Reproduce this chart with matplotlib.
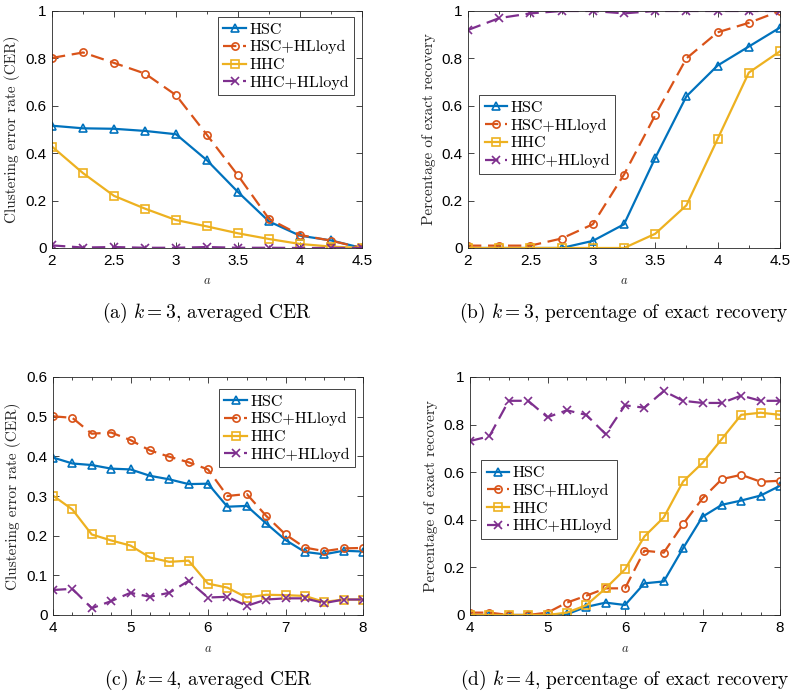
import numpy as np
import matplotlib
matplotlib.use("Agg")
import matplotlib.pyplot as plt
from matplotlib.ticker import MultipleLocator

plt.rcParams['mathtext.fontset'] = 'cm'

# ---------------- data ----------------
x_k3 = [2, 2.25, 2.5, 2.75, 3, 3.25, 3.5, 3.75, 4, 4.25, 4.5]
cer_k3_hsc = [0.516, 0.505, 0.503, 0.494, 0.48, 0.37, 0.236, 0.112, 0.052, 0.032, 0.0]
cer_k3_hsc_hl = [0.802, 0.825, 0.781, 0.736, 0.645, 0.477, 0.306, 0.123, 0.055, 0.031, 0.0]
cer_k3_hhc = [0.428, 0.316, 0.22, 0.166, 0.118, 0.091, 0.062, 0.038, 0.017, 0.006, 0.0]
cer_k3_hhc_hl = [0.011, 0.002, 0.004, 0.001, 0.001, 0.004, 0.001, 0.001, 0.0, 0.0, 0.0]

rec_k3_hsc = [0, 0, 0, 0, 0.03, 0.10, 0.38, 0.64, 0.77, 0.85, 0.93]
rec_k3_hsc_hl = [0.01, 0.01, 0.01, 0.04, 0.10, 0.31, 0.56, 0.80, 0.91, 0.95, 1.0]
rec_k3_hhc = [0, 0, 0, 0, 0, 0, 0.06, 0.18, 0.46, 0.74, 0.83]
rec_k3_hhc_hl = [0.92, 0.97, 0.99, 1.0, 1.0, 0.99, 1.0, 1.0, 1.0, 1.0, 1.0]

x_k4 = [4, 4.25, 4.5, 4.75, 5, 5.25, 5.5, 5.75, 6, 6.25, 6.5, 6.75, 7, 7.25, 7.5, 7.75, 8]
cer_k4_hsc = [0.397, 0.382, 0.378, 0.369, 0.367, 0.351, 0.342, 0.330, 0.331, 0.273, 0.275,
              0.231, 0.189, 0.159, 0.153, 0.162, 0.160]
cer_k4_hsc_hl = [0.501, 0.497, 0.457, 0.46, 0.441, 0.415, 0.399, 0.385, 0.367, 0.300, 0.305,
                 0.250, 0.203, 0.170, 0.161, 0.168, 0.169]
cer_k4_hhc = [0.301, 0.266, 0.203, 0.188, 0.175, 0.145, 0.134, 0.137, 0.079, 0.069, 0.044,
              0.051, 0.050, 0.048, 0.033, 0.039, 0.039]
cer_k4_hhc_hl = [0.063, 0.066, 0.017, 0.035, 0.056, 0.046, 0.056, 0.086, 0.044, 0.046, 0.023,
                 0.039, 0.042, 0.042, 0.030, 0.039, 0.039]

rec_k4_hsc = [0, 0, 0, 0, 0, 0.003, 0.034, 0.052, 0.042, 0.133, 0.141, 0.281, 0.413, 0.463,
              0.481, 0.502, 0.543]
rec_k4_hsc_hl = [0.01, 0.01, 0, 0, 0.01, 0.052, 0.081, 0.112, 0.112, 0.27, 0.262, 0.382, 0.49,
                 0.571, 0.589, 0.56, 0.564]
rec_k4_hhc = [0, 0, 0, 0, 0, 0.01, 0.041, 0.112, 0.192, 0.33, 0.41, 0.561, 0.639, 0.74, 0.841,
              0.85, 0.841]
rec_k4_hhc_hl = [0.731, 0.751, 0.90, 0.90, 0.831, 0.86, 0.841, 0.76, 0.881, 0.871, 0.941, 0.90,
                 0.891, 0.891, 0.922, 0.90, 0.90]

labels = ['HSC', 'HSC+HLloyd', 'HHC', 'HHC+HLloyd']
captions = ['(a) $k=3$, averaged CER', '(b) $k=3$, percentage of exact recovery',
            '(c) $k=4$, averaged CER', '(d) $k=4$, percentage of exact recovery']
ylabels = ['Clustering error rate (CER)', 'Percentage of exact recovery']

colors = ['#0072BD', '#D95319', '#EDB120', '#7E2F8E']
markers = ['^', 'o', 's', 'x']
styles = ['-', '--', '-', '--']

W, H = 808, 692
fig = plt.figure(figsize=(W / 100, H / 100), dpi=100)

def box(l, r, t, b):
    return [l / W, 1 - b / H, (r - l) / W, (b - t) / H]

panels = [
    dict(rect=box(52, 362, 11, 248), x=x_k3,
         ys=[cer_k3_hsc, cer_k3_hsc_hl, cer_k3_hhc, cer_k3_hhc_hl],
         xlim=(2, 4.5), ylim=(0, 1), xmaj=0.5, ymaj=0.2, yl=0,
         leg=dict(loc='upper right', bbox_to_anchor=(0.99, 0.995))),
    dict(rect=box(468, 780, 11, 248), x=x_k3,
         ys=[rec_k3_hsc, rec_k3_hsc_hl, rec_k3_hhc, rec_k3_hhc_hl],
         xlim=(2, 4.5), ylim=(0, 1), xmaj=0.5, ymaj=0.2, yl=1,
         leg=dict(loc='upper left', bbox_to_anchor=(0.02, 0.665))),
    dict(rect=box(53, 363, 377, 615), x=x_k4,
         ys=[cer_k4_hsc, cer_k4_hsc_hl, cer_k4_hhc, cer_k4_hhc_hl],
         xlim=(4, 8), ylim=(0, 0.6), xmaj=1, ymaj=0.1, yl=0,
         leg=dict(loc='upper right', bbox_to_anchor=(0.99, 0.97))),
    dict(rect=box(470, 780, 377, 615), x=x_k4,
         ys=[rec_k4_hsc, rec_k4_hsc_hl, rec_k4_hhc, rec_k4_hhc_hl],
         xlim=(4, 8), ylim=(0, 1), xmaj=1, ymaj=0.2, yl=1,
         leg=dict(loc='upper left', bbox_to_anchor=(0.02, 0.67))),
]

for i, p in enumerate(panels):
    ax = fig.add_axes(p['rect'])
    for j in range(4):
        ax.plot(p['x'], p['ys'][j], linestyle=styles[j], color=colors[j], lw=1.6,
                marker=markers[j], markersize=5.2, markerfacecolor='none',
                markeredgewidth=1.2, label=labels[j],
                dashes=(6, 3) if styles[j] == '--' else (None, None))
    ax.set_xlim(*p['xlim'])
    ax.set_ylim(*p['ylim'])
    ax.xaxis.set_major_locator(MultipleLocator(p['xmaj']))
    ax.xaxis.set_minor_locator(MultipleLocator(0.25))
    ax.yaxis.set_major_locator(MultipleLocator(p['ymaj']))
    ax.tick_params(which='both', direction='in', top=True, right=True,
                   color='#262626', labelsize=11, width=0.6, pad=4)
    ax.tick_params(which='major', length=4)
    ax.tick_params(which='minor', length=2)
    ax.xaxis.set_major_formatter(matplotlib.ticker.FuncFormatter(lambda v, pos: f'{v:g}'))
    ax.yaxis.set_major_formatter(matplotlib.ticker.FuncFormatter(lambda v, pos: f'{v:g}'))
    for lab in ax.get_xticklabels() + ax.get_yticklabels():
        lab.set_fontfamily('Liberation Sans')
    for s in ax.spines.values():
        s.set_color('#262626')
        s.set_linewidth(0.6)
    ax.set_ylabel(ylabels[p['yl']], fontfamily='cmr10', fontsize=11, color='#262626',
                  labelpad=4)
    ax.set_xlabel('$a$', fontsize=9, color='#262626', labelpad=5)
    leg = ax.legend(prop=dict(family='cmr10', size=11.5), frameon=True, fancybox=False,
                    edgecolor='#262626', framealpha=1, handlelength=1.4,
                    handletextpad=0.2, borderpad=0.35, labelspacing=0.22,
                    borderaxespad=0.3, numpoints=1, **p['leg'])
    leg.get_frame().set_linewidth(0.6)
    r = p['rect']
    fig.text(r[0] + r[2] / 2, r[1] - 65 / H, captions[i], ha='center', va='center',
             fontfamily='cmr10', fontsize=14)

fig.savefig('out.png', dpi=100)
